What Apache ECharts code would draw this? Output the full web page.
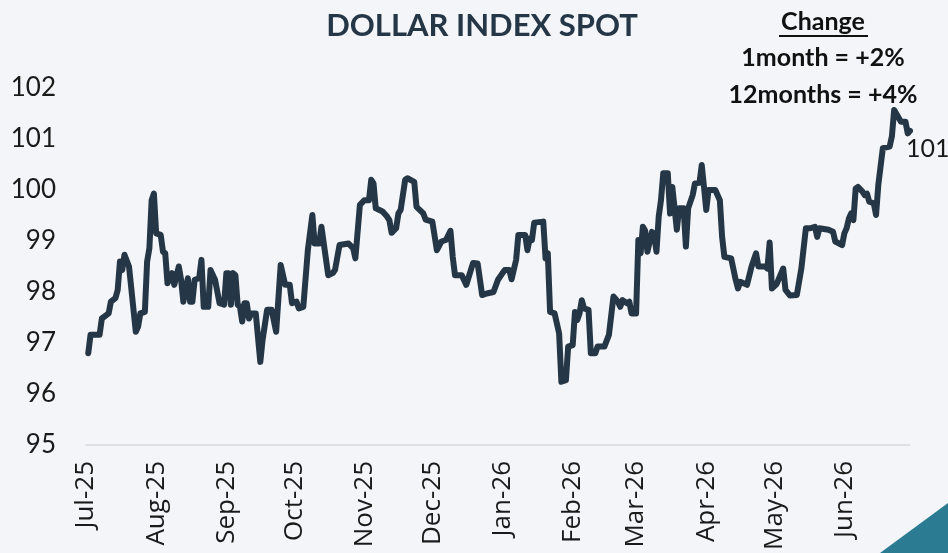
<!DOCTYPE html>
<html>
<head>
<meta charset="utf-8">
<script src="https://cdn.jsdelivr.net/npm/echarts@6/dist/echarts.min.js"></script>
<style>
  html, body { margin: 0; padding: 0; background: #f3f5f9; }
  #chart { width: 948px; height: 553px; }
</style>
</head>
<body>
<div id="chart"></div>
<script>
// daily readings of the dollar index
const dates = [
  '2025-07-02','2025-07-03','2025-07-07','2025-07-08','2025-07-11','2025-07-12','2025-07-14','2025-07-15',
  '2025-07-16','2025-07-17','2025-07-18','2025-07-20','2025-07-23','2025-07-24','2025-07-25','2025-07-27',
  '2025-07-28','2025-07-29','2025-07-30','2025-07-31','2025-08-01','2025-08-03','2025-08-04','2025-08-05',
  '2025-08-06','2025-08-08','2025-08-09','2025-08-11','2025-08-12','2025-08-13','2025-08-15','2025-08-16',
  '2025-08-17','2025-08-18','2025-08-20','2025-08-21','2025-08-22','2025-08-24','2025-08-25','2025-08-27',
  '2025-08-29','2025-08-31','2025-09-01','2025-09-02','2025-09-03','2025-09-04','2025-09-05','2025-09-06',
  '2025-09-07','2025-09-08','2025-09-09','2025-09-10','2025-09-11','2025-09-12','2025-09-14','2025-09-16',
  '2025-09-17','2025-09-19','2025-09-21','2025-09-23','2025-09-25','2025-09-27','2025-09-29','2025-09-30',
  '2025-10-02','2025-10-03','2025-10-05','2025-10-07','2025-10-09','2025-10-10','2025-10-12','2025-10-13',
  '2025-10-16','2025-10-18','2025-10-19','2025-10-21','2025-10-25','2025-10-27','2025-10-28','2025-10-30',
  '2025-11-01','2025-11-03','2025-11-04','2025-11-05','2025-11-06','2025-11-09','2025-11-11','2025-11-12',
  '2025-11-13','2025-11-15','2025-11-16','2025-11-17','2025-11-19','2025-11-20','2025-11-23','2025-11-24',
  '2025-11-27','2025-11-28','2025-12-01','2025-12-03','2025-12-05','2025-12-07','2025-12-09','2025-12-10',
  '2025-12-11','2025-12-14','2025-12-16','2025-12-18','2025-12-19','2025-12-21','2025-12-23','2025-12-25',
  '2025-12-28','2025-12-30','2026-01-01','2026-01-02','2026-01-04','2026-01-05','2026-01-07','2026-01-08',
  '2026-01-11','2026-01-12','2026-01-13','2026-01-14','2026-01-15','2026-01-19','2026-01-20','2026-01-21',
  '2026-01-22','2026-01-24','2026-01-26','2026-01-27','2026-01-29','2026-01-30','2026-02-01','2026-02-02',
  '2026-02-03','2026-02-04','2026-02-05','2026-02-06','2026-02-08','2026-02-09','2026-02-11','2026-02-12',
  '2026-02-15','2026-02-17','2026-02-19','2026-02-21','2026-02-22','2026-02-23','2026-02-25','2026-02-26',
  '2026-02-27','2026-03-01','2026-03-02','2026-03-03','2026-03-04','2026-03-05','2026-03-06','2026-03-08',
  '2026-03-09','2026-03-10','2026-03-11','2026-03-12','2026-03-13','2026-03-15','2026-03-16','2026-03-17',
  '2026-03-18','2026-03-19','2026-03-20','2026-03-22','2026-03-23','2026-03-24','2026-03-26','2026-03-27',
  '2026-03-29','2026-03-30','2026-03-31','2026-04-01','2026-04-02','2026-04-05','2026-04-07','2026-04-08',
  '2026-04-09','2026-04-12','2026-04-14','2026-04-15','2026-04-16','2026-04-19','2026-04-21','2026-04-23',
  '2026-04-24','2026-04-27','2026-04-28','2026-04-29','2026-04-30','2026-05-02','2026-05-05','2026-05-06',
  '2026-05-08','2026-05-11','2026-05-13','2026-05-15','2026-05-17','2026-05-19','2026-05-20','2026-05-21',
  '2026-05-25','2026-05-27','2026-05-28','2026-05-31','2026-06-01','2026-06-02','2026-06-03','2026-06-04',
  '2026-06-05','2026-06-06','2026-06-07','2026-06-09','2026-06-10','2026-06-11','2026-06-12','2026-06-14',
  '2026-06-15','2026-06-16','2026-06-18','2026-06-21','2026-06-22','2026-06-23','2026-06-26','2026-06-28',
  '2026-06-29','2026-06-30'
];
const values = [
  96.80, 97.16, 97.16, 97.48, 97.58, 97.81, 97.88, 98.04,
  98.60, 98.43, 98.73, 98.50, 97.22, 97.32, 97.58, 97.61,
  98.60, 98.86, 99.80, 99.93, 99.15, 99.12, 98.79, 98.76,
  98.17, 98.37, 98.14, 98.50, 98.24, 97.81, 98.27, 97.81,
  97.81, 98.24, 98.27, 98.63, 97.71, 97.71, 98.43, 98.24,
  97.78, 97.75, 98.37, 98.37, 97.75, 98.37, 98.33, 97.75,
  97.71, 97.42, 97.78, 97.78, 97.48, 97.58, 97.58, 96.63,
  97.06, 97.65, 97.65, 97.22, 98.53, 98.14, 98.14, 97.78,
  97.81, 97.68, 97.71, 98.82, 99.51, 98.95, 98.95, 99.28,
  98.33, 98.37, 98.43, 98.92, 98.95, 98.86, 98.66, 99.71,
  99.80, 99.80, 100.20, 100.13, 99.64, 99.58, 99.48, 99.41,
  99.16, 99.25, 99.54, 99.61, 100.20, 100.23, 100.16, 99.67,
  99.54, 99.42, 99.38, 98.82, 98.99, 99.02, 99.20, 98.69,
  98.33, 98.33, 98.14, 98.43, 98.57, 98.56, 97.94, 97.97,
  98.00, 98.24, 98.37, 98.43, 98.43, 98.25, 98.63, 99.12,
  99.12, 98.82, 99.05, 99.02, 99.36, 99.38, 98.66, 98.76,
  97.61, 97.58, 97.19, 96.24, 96.27, 96.93, 96.96, 97.61,
  97.45, 97.58, 97.84, 97.68, 97.65, 96.80, 96.80, 96.93,
  96.93, 97.16, 97.91, 97.81, 97.71, 97.84, 97.78, 97.81,
  97.58, 97.58, 99.02, 98.76, 99.28, 99.20, 98.79, 99.18,
  99.12, 98.79, 99.48, 99.80, 100.33, 100.33, 99.54, 100.06,
  99.64, 99.22, 99.64, 99.64, 98.89, 99.64, 99.90, 100.13,
  100.14, 100.49, 100.06, 99.61, 100.00, 100.00, 99.80, 99.08,
  98.69, 98.66, 98.24, 98.07, 98.20, 98.14, 98.50, 98.76,
  98.50, 98.50, 98.46, 98.97, 98.07, 98.15, 98.46, 98.04,
  97.93, 97.94, 98.46, 99.25, 99.25, 99.28, 99.08, 99.25,
  99.22, 99.18, 98.99, 98.92, 99.15, 99.25, 99.44, 99.54,
  99.41, 100.03, 100.06, 99.97, 99.90, 99.93, 99.77, 99.74,
  99.51, 100.10, 100.82, 100.85, 101.05, 101.57, 101.34, 101.34,
  101.11, 101.16
];
const yTicks = { min: 95, max: 102, step: 1 };
const monthNames = ['Jan','Feb','Mar','Apr','May','Jun','Jul','Aug','Sep','Oct','Nov','Dec'];
const changeLines = ['Change', '1month = +2%', '12months = +4%'];

// one category per calendar day, Jul 1 2025 .. Jun 30 2026
const days = [];
for (let t = Date.UTC(2025, 6, 1); t <= Date.UTC(2026, 5, 30); t += 86400000) {
  days.push(new Date(t).toISOString().slice(0, 10));
}

const chart = echarts.init(document.getElementById('chart'));
const lineColor = '#253746';
const noteStyle = { align: 'center', verticalAlign: 'middle', fontFamily: 'Lato', fontWeight: 'bold', fontSize: 25, fill: '#111' };

const option = {
  backgroundColor: '#f3f5f9',
  animation: false,
  title: {
    text: 'DOLLAR INDEX SPOT',
    left: 477,
    textAlign: 'center',
    top: 5,
    textStyle: { fontFamily: 'Lato', fontWeight: 'bold', fontSize: 31, color: lineColor }
  },
  grid: { left: 86, right: 38, top: 88, bottom: 108 },
  xAxis: {
    type: 'category',
    data: days,
    boundaryGap: false,
    axisLine: { lineStyle: { color: '#d9d9d9', width: 1.5 } },
    axisTick: { show: false },
    axisLabel: {
      interval: (i, v) => v.slice(8) === '01',
      rotate: 90,
      margin: 16,
      fontFamily: 'Open Sans',
      fontSize: 26,
      color: '#1a1a1a',
      formatter: v => monthNames[+v.slice(5, 7) - 1] + '-' + v.slice(2, 4)
    }
  },
  yAxis: {
    type: 'value',
    min: yTicks.min,
    max: yTicks.max,
    interval: yTicks.step,
    axisLine: { show: false },
    axisTick: { show: false },
    splitLine: { show: false },
    axisLabel: { margin: 30, fontFamily: 'Lato', fontSize: 26, color: '#1a1a1a' }
  },
  series: [{
    type: 'line',
    data: dates.map((d, i) => [d, values[i]]),
    showSymbol: false,
    lineStyle: { color: lineColor, width: 6, join: 'round', cap: 'round' },
    endLabel: {
      show: true,
      formatter: p => Math.round(p.value[1]),
      offset: [-12, 18],
      fontFamily: 'Lato',
      fontSize: 25,
      color: '#1a1a1a'
    }
  }],
  graphic: [
    { type: 'text', x: 823, y: 22, style: Object.assign({ text: changeLines[0] }, noteStyle) },
    { type: 'rect', shape: { x: 779, y: 35, width: 89, height: 2 }, style: { fill: '#111' } },
    { type: 'text', x: 823, y: 58, style: Object.assign({ text: changeLines[1] }, noteStyle) },
    { type: 'text', x: 823, y: 95, style: Object.assign({ text: changeLines[2] }, noteStyle) },
    {
      type: 'polygon',
      shape: { points: [[880, 553], [948, 503], [948, 553]] },
      style: { fill: '#2b7c93' }
    }
  ]
};

chart.setOption(option);
</script>
</body>
</html>
